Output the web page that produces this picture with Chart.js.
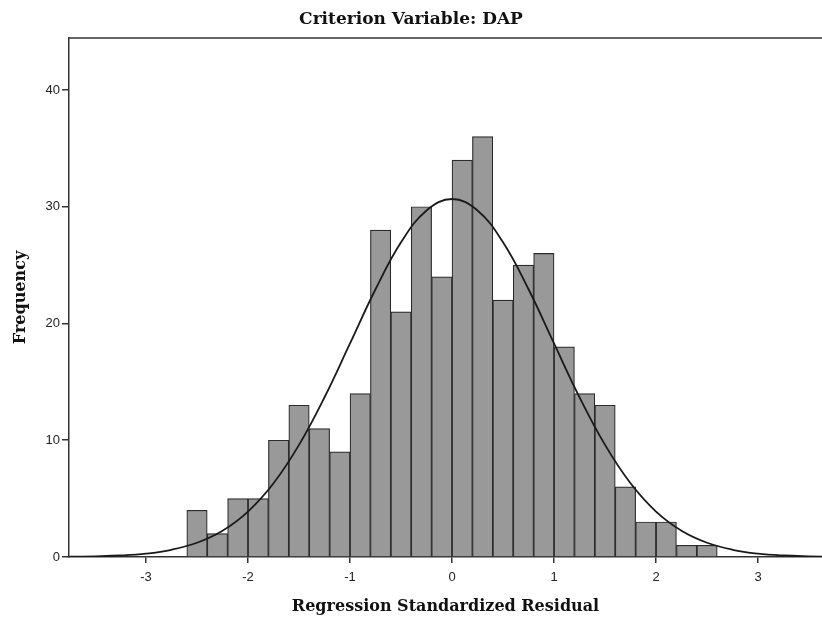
<!DOCTYPE html>
<html>
<head>
<meta charset="utf-8">
<script src="https://cdn.jsdelivr.net/npm/chart.js@4/dist/chart.umd.min.js"></script>
<style>
  html, body { margin: 0; padding: 0; background: #fff; }
  #wrap { width: 822px; height: 617px; }
</style>
</head>
<body>
<div id="wrap"><canvas id="resid"></canvas></div>
<script>
// histogram bins (centre of each 0.2 wide bin) and counts
const binCentres = [-2.5, -2.3, -2.1, -1.9, -1.7, -1.5, -1.3, -1.1, -0.9, -0.7, -0.5, -0.3, -0.1,
                    0.1, 0.3, 0.5, 0.7, 0.9, 1.1, 1.3, 1.5, 1.7, 1.9, 2.1, 2.3, 2.5];
const counts = [4, 2, 5, 5, 10, 13, 11, 9, 14, 28, 21, 30, 24,
                34, 36, 22, 25, 26, 18, 14, 13, 6, 3, 3, 1, 1];

// normal curve
const curveX = [-3.75, -3.5, -3.25, -3, -2.75, -2.5, -2.25, -2, -1.75, -1.5, -1.25, -1, -0.75, -0.5, -0.25,
                0, 0.25, 0.5, 0.75, 1, 1.25, 1.5, 1.75, 2, 2.25, 2.5, 2.75, 3, 3.25, 3.5, 3.75];
const curveY = [0.02, 0.06, 0.13, 0.29, 0.62, 1.22, 2.25, 3.89, 6.31, 9.6, 13.68, 18.29, 22.93, 26.95, 29.68,
                30.66, 29.68, 26.95, 22.93, 18.29, 13.68, 9.6, 6.31, 3.89, 2.25, 1.22, 0.62, 0.29, 0.13, 0.06, 0.02];

const xTicks = [-3, -2, -1, 0, 1, 2, 3];
const yTicks = [0, 10, 20, 30, 40];

const serifBold = { family: '"DejaVu Serif", "Liberation Serif", serif', size: 16, weight: 'bold' };
const tickFont = { family: '"Liberation Sans", Arial, sans-serif', size: 13 };

const frameTop = {
    id: 'frameTop',
    afterDraw(chart) {
        const a = chart.chartArea;
        const c = chart.ctx;
        c.save();
        c.strokeStyle = '#333';
        c.lineWidth = 1.5;
        c.beginPath();
        c.moveTo(a.left, a.top);
        c.lineTo(a.right, a.top);
        c.stroke();
        c.restore();
    }
};

const ctx = document.getElementById('resid').getContext('2d');

const chart = new Chart(ctx, {
    type: 'bar',
    data: {
        datasets: [{
            type: 'line',
            label: 'Normal',
            data: curveX.map((x, i) => ({x: x, y: curveY[i]})),
            borderColor: '#1a1a1a',
            borderWidth: 1.8,
            pointRadius: 0,
            tension: 0.4,
            fill: false,
            order: 0
        }, {
            label: 'Frequency',
            data: binCentres.map((x, i) => ({x: x, y: counts[i]})),
            backgroundColor: '#999999',
            borderColor: '#2b2b2b',
            borderWidth: 1.2,
            barPercentage: 1,
            categoryPercentage: 1,
            order: 1
        }]
    },
    options: {
        responsive: true,
        maintainAspectRatio: false,
        animation: false,
        layout: { padding: 0 },
        plugins: {
            legend: { display: false },
            tooltip: { enabled: false },
            title: {
                display: true,
                text: 'Criterion Variable: DAP',
                color: '#111',
                font: { family: serifBold.family, size: 17, weight: 'bold' },
                padding: { top: 9, bottom: 8.6 }
            }
        },
        scales: {
            x: {
                type: 'linear',
                offset: false,
                min: -3.755,
                max: 3.627,
                afterBuildTicks: s => { s.ticks = xTicks.map(v => ({value: v})); },
                afterFit: s => { s.height = 60; },
                grid: { display: true, offset: false, drawOnChartArea: false, drawTicks: true, tickLength: 6, color: '#333', lineWidth: 1.5 },
                border: { display: true, color: '#333', width: 1.5 },
                ticks: {
                    color: '#222',
                    padding: 7,
                    maxRotation: 0,
                    font: tickFont
                },
                title: {
                    display: true,
                    text: 'Regression Standardized Residual',
                    color: '#111',
                    font: serifBold,
                    padding: { top: 0, bottom: 0.5 }
                }
            },
            y: {
                min: 0,
                max: 44.45,
                afterBuildTicks: s => { s.ticks = yTicks.map(v => ({value: v})); },
                afterFit: s => { s.width = 69; },
                grid: { display: true, drawOnChartArea: false, drawTicks: true, tickLength: 7, color: '#333', lineWidth: 1.5 },
                border: { display: true, color: '#333', width: 1.5 },
                ticks: {
                    color: '#222',
                    padding: 2,
                    font: tickFont
                },
                title: {
                    display: true,
                    text: 'Frequency',
                    color: '#111',
                    font: serifBold,
                    padding: { top: 11, bottom: 0 }
                }
            }
        }
    },
    plugins: [frameTop]
});
</script>
</body>
</html>
